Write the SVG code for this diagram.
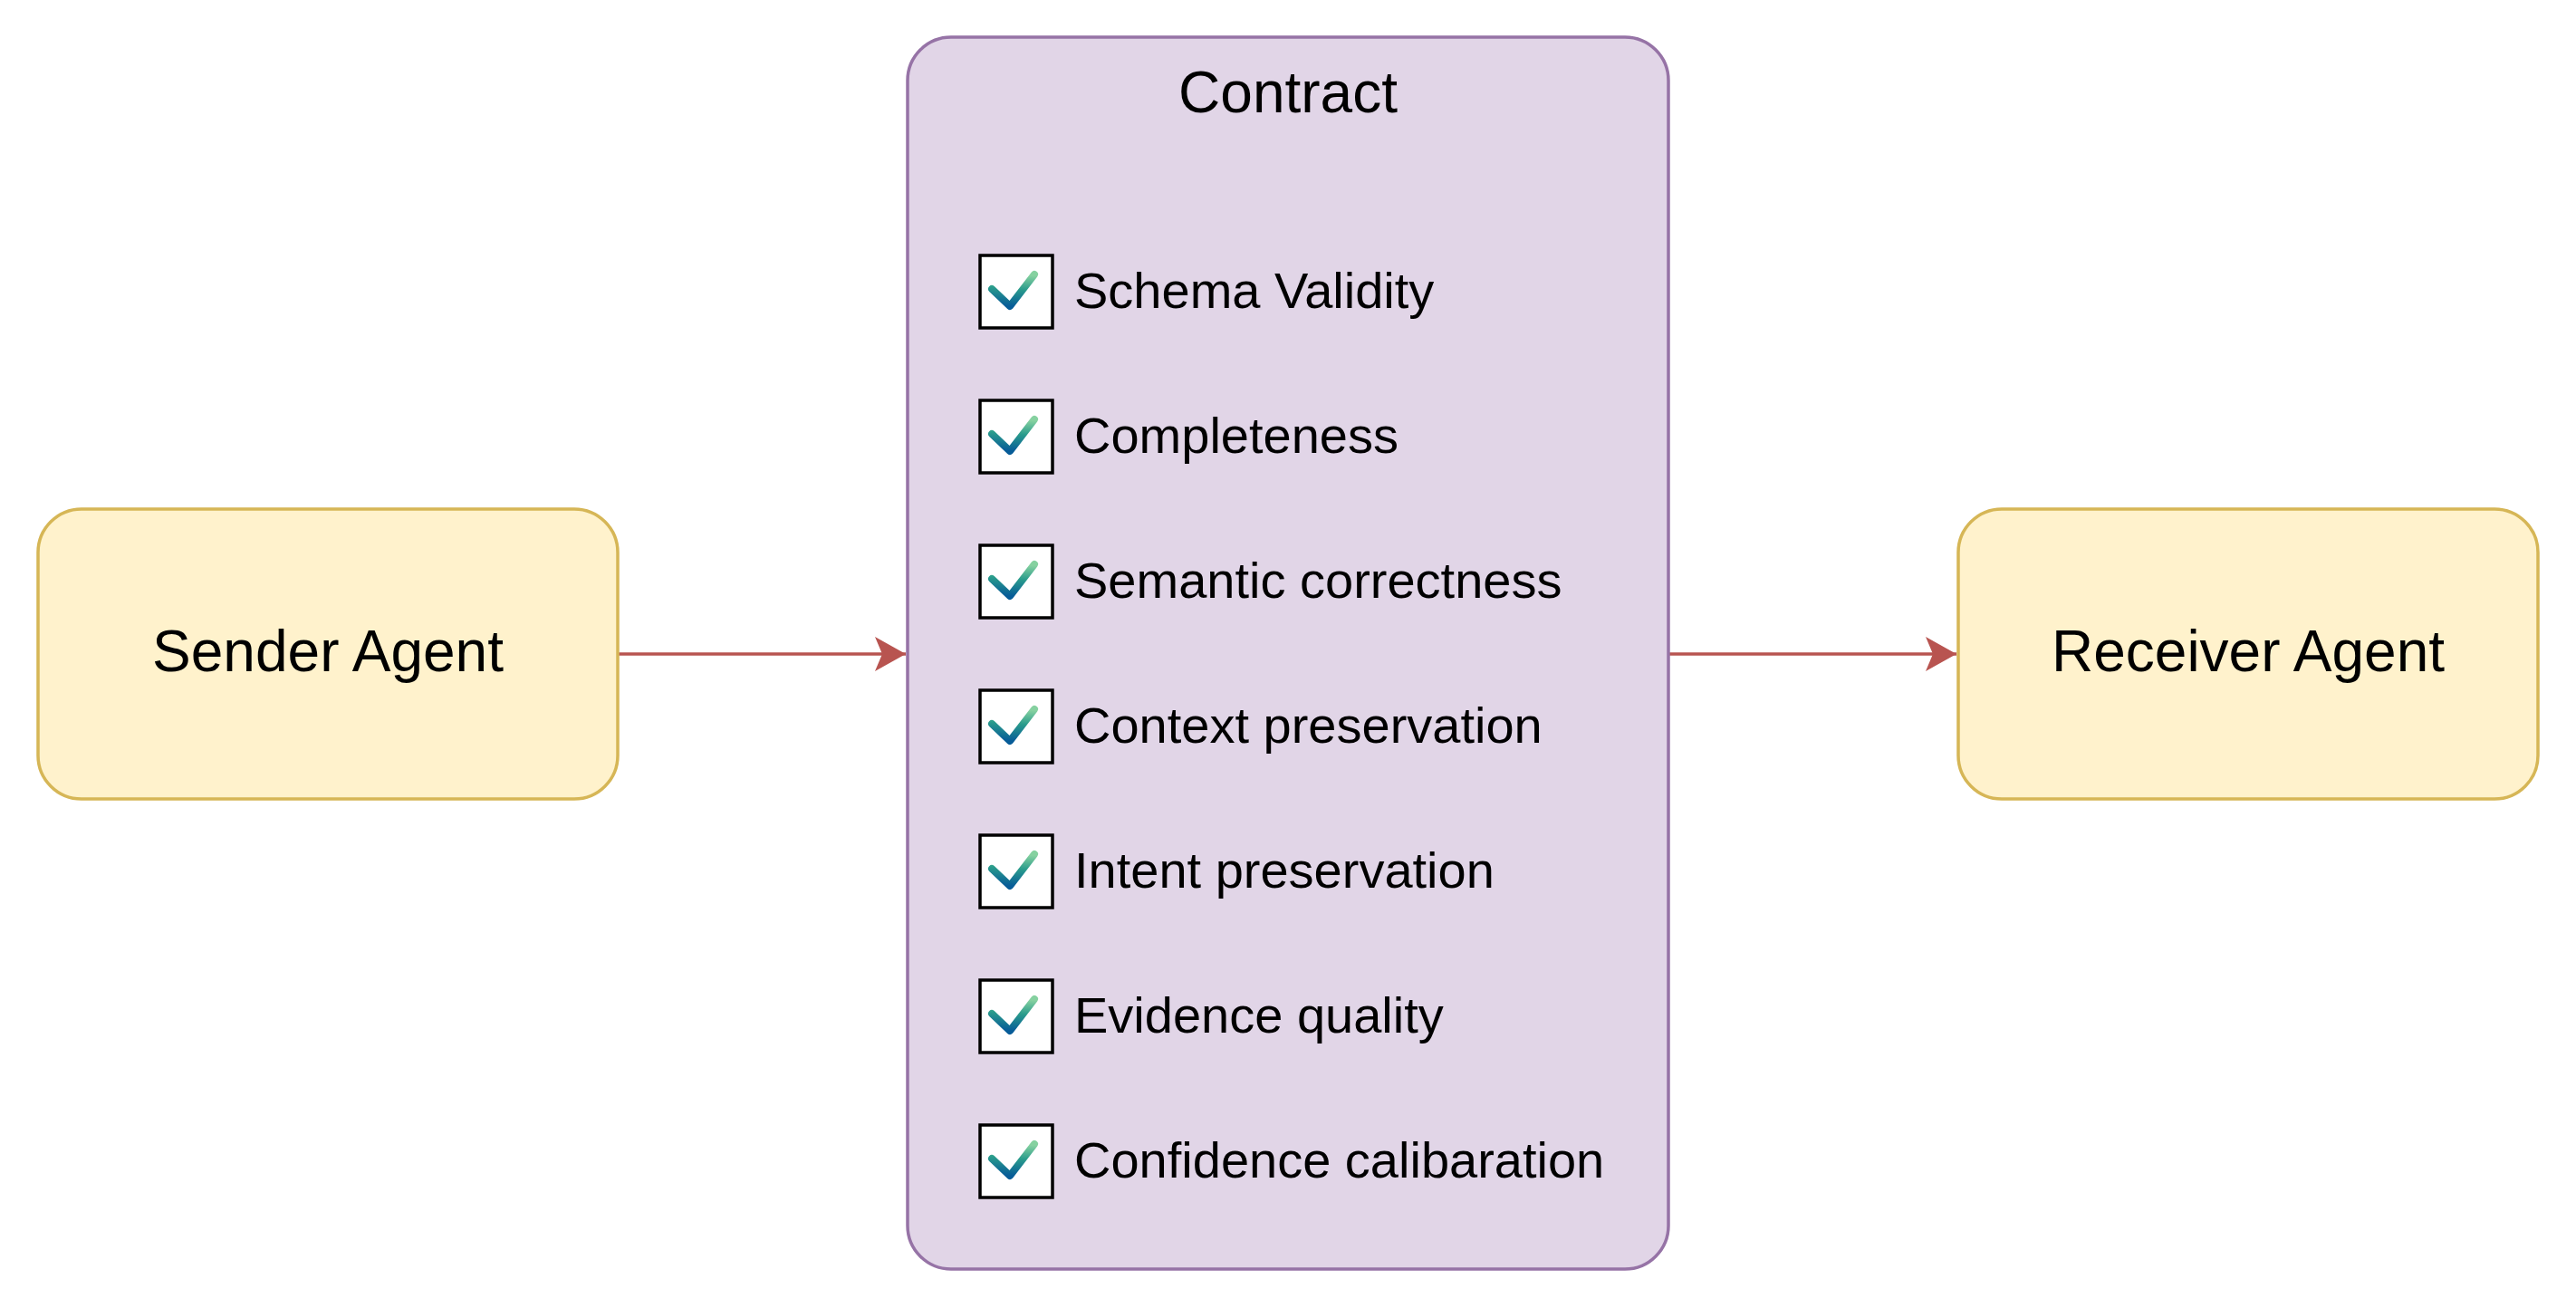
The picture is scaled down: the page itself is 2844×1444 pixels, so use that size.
<svg xmlns="http://www.w3.org/2000/svg" xmlns:xlink="http://www.w3.org/1999/xlink" width="2844" height="1444" viewBox="0 0 2844 1444">
<style>
.agent{fill:#fff2cc;stroke:#d6b656;stroke-width:3.5}
.contract{fill:#e1d5e7;stroke:#9673a6;stroke-width:3.5}
.t{font-family:"Liberation Sans",Arial,Helvetica,sans-serif;fill:#000}
.big{font-size:64px;text-anchor:middle}
.item{font-size:56px}
.box{fill:#fff;stroke:#000;stroke-width:3.5}
.conn{stroke:#b85450;stroke-width:3.5;fill:none}
</style>
<defs>
<linearGradient id="chk" x1="0.55" y1="0" x2="0.45" y2="1">
<stop offset="0" stop-color="#86d1a0"/>
<stop offset="0.45" stop-color="#2a9c8c"/>
<stop offset="1" stop-color="#075c98"/>
</linearGradient>
<g id="checkbox">
<rect class="box" x="-40" y="-40" width="80" height="80"/>
<path d="M-27,-3 L-7,16 L20,-19" fill="none" stroke="url(#chk)" stroke-width="8" stroke-linecap="round" stroke-linejoin="round"/>
</g>
<marker id="arrow" markerUnits="userSpaceOnUse" markerWidth="40" markerHeight="40" viewBox="0 0 40 40" refX="34" refY="20" orient="auto">
<path d="M0,1 L34,20 L0,39 L8,20 Z" fill="#b85450"/>
</marker>
</defs>
<g id="connectors">
<line class="conn" x1="682" y1="722" x2="1000" y2="722" marker-end="url(#arrow)"/>
<line class="conn" x1="1842" y1="722" x2="2160" y2="722" marker-end="url(#arrow)"/>
</g>
<g id="sender">
<rect class="agent" x="42" y="562" width="640" height="320" rx="48" ry="48"/>
<text class="t big" x="362" y="741">Sender Agent</text>
</g>
<g id="contract">
<rect class="contract" x="1002" y="41" width="840" height="1360" rx="48" ry="48"/>
<text class="t big" x="1422" y="124">Contract</text>
<g id="item-schema"><use xlink:href="#checkbox" x="1122" y="322"/><text class="t item" x="1186" y="340">Schema Validity</text></g>
<g id="item-completeness"><use xlink:href="#checkbox" x="1122" y="482"/><text class="t item" x="1186" y="500">Completeness</text></g>
<g id="item-semantic"><use xlink:href="#checkbox" x="1122" y="642"/><text class="t item" x="1186" y="660">Semantic correctness</text></g>
<g id="item-context"><use xlink:href="#checkbox" x="1122" y="802"/><text class="t item" x="1186" y="820">Context preservation</text></g>
<g id="item-intent"><use xlink:href="#checkbox" x="1122" y="962"/><text class="t item" x="1186" y="980">Intent preservation</text></g>
<g id="item-evidence"><use xlink:href="#checkbox" x="1122" y="1122"/><text class="t item" x="1186" y="1140">Evidence quality</text></g>
<g id="item-confidence"><use xlink:href="#checkbox" x="1122" y="1282"/><text class="t item" x="1186" y="1300">Confidence calibaration</text></g>
</g>
<g id="receiver">
<rect class="agent" x="2162" y="562" width="640" height="320" rx="48" ry="48"/>
<text class="t big" x="2482" y="741">Receiver Agent</text>
</g>
</svg>
